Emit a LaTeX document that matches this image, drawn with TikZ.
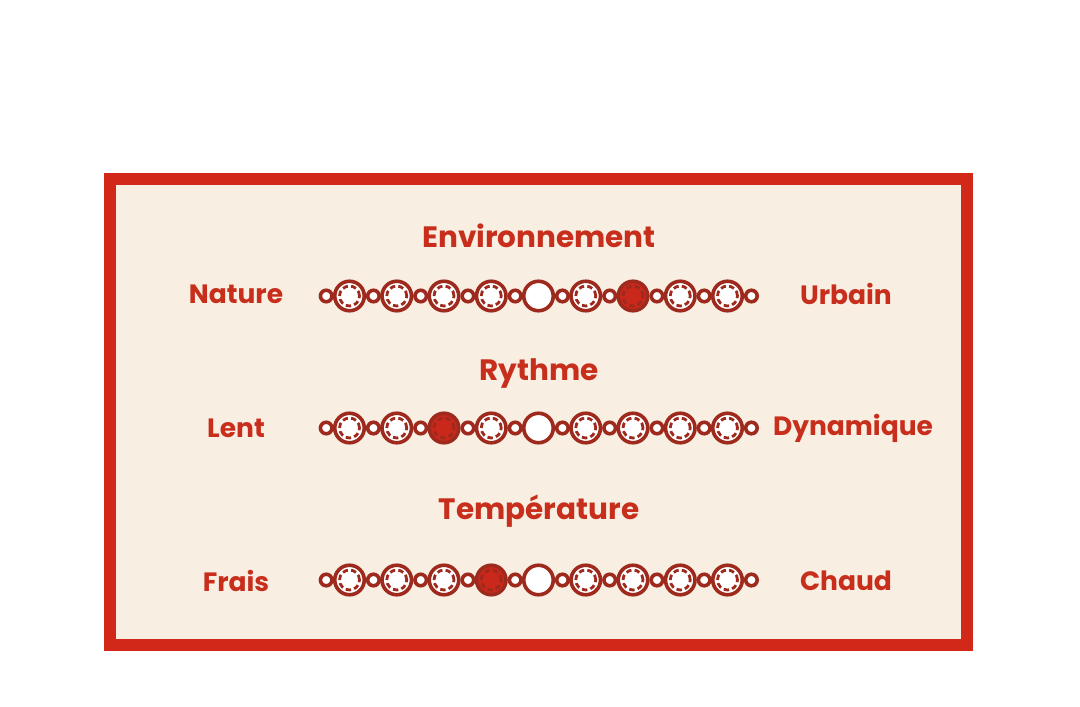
\documentclass[tikz,border=0pt]{standalone}
\usepackage{fontspec}
\setmainfont{Poppins}
\usetikzlibrary{positioning}

\definecolor{framered}{HTML}{D2281A}
\definecolor{paper}{HTML}{F8EEE1}
\definecolor{textred}{HTML}{C82E1C}
\definecolor{chainred}{HTML}{9E2A1E}
\definecolor{dotred}{HTML}{C9281A}

\tikzset{
  ring/.style={circle,draw=chainred,line width=3.6pt,fill=white,inner sep=0pt},
  bigring/.style={ring,minimum size=29.5pt},
  smallring/.style={ring,minimum size=11.5pt},
  pickring/.style={bigring,fill=dotred},
  dashring/.style={circle,draw=chainred,line width=2.8pt,inner sep=0pt,minimum size=20pt,dash pattern=on 5.4pt off 3.2pt},
  scaletitle/.style={text=textred,font=\fontsize{29.5}{34}\selectfont\bfseries},
  endlabel/.style={text=textred,font=\fontsize{26.5}{30}\selectfont\bfseries}
}

\begin{document}
\begin{tikzpicture}[x=1pt,y=-1pt]
	\useasboundingbox (0,0) rectangle (1080,707);
	%frame
	\draw[framered,line width=12pt,fill=paper] (110,179) rectangle (967,645);

	%titles
	\node[scaletitle] (envtitle) at (539,236) {Environnement};
	\node[scaletitle] (rytitle)  at (539,373) {Rythme};
	\node[scaletitle] (tmptitle) at (539,511) {Température};

	%end labels
	\node[endlabel] (envleft)  at (236,294) {Nature};
	\node[endlabel] (envright) at (846,294) {Urbain};
	\node[endlabel] (ryleft)   at (236,428) {Lent};
	\node[endlabel] (ryright)  at (853,428) {Dynamique};
	\node[endlabel] (tmpleft)  at (236,581) {Frais};
	\node[endlabel] (tmpright) at (846,581) {Chaud};

	%chains
	\foreach \y/\k/\r in {296/7/env,428/3/ry,580/4/tmp}{
		\foreach \i in {0,...,9}
			\node[smallring] (\r s\i) at ({326.2+47.25*\i},\y) {};
		\foreach \i in {1,...,9}{
			\ifnum\i=\k\relax
				\node[pickring] (\r\i) at ({302.25+47.25*\i},\y) {};
			\else
				\node[bigring] (\r\i) at ({302.25+47.25*\i},\y) {};
			\fi
			\ifnum\i=5\relax\else
				\node[dashring] at (\r\i) {};
			\fi
		}
	}
\end{tikzpicture}
\end{document}
